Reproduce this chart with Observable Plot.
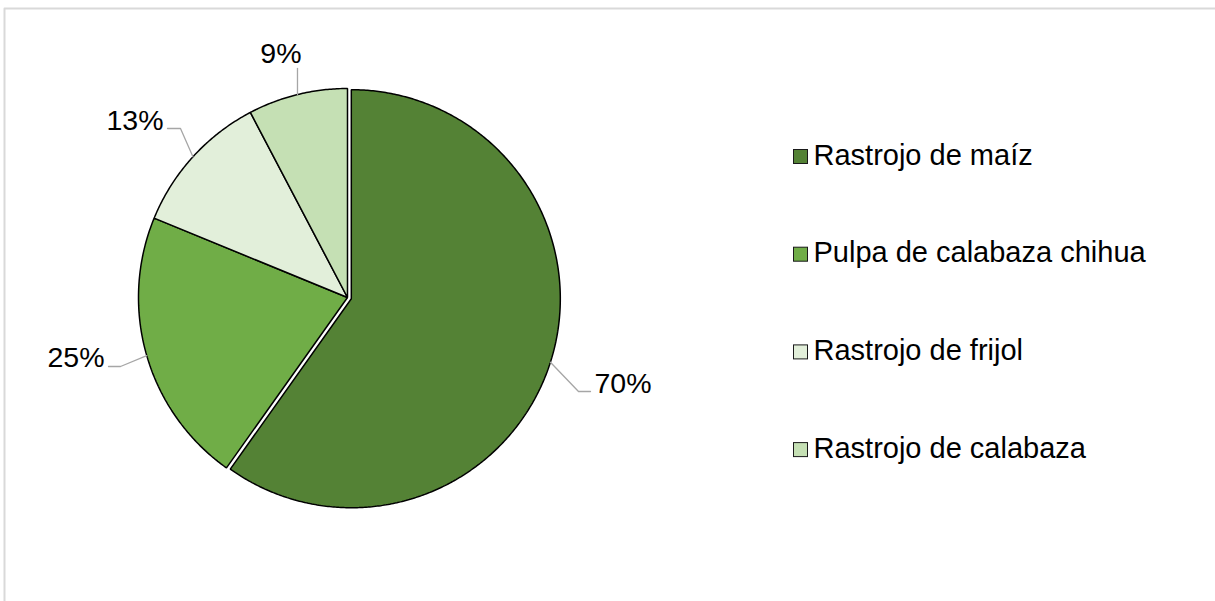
<!DOCTYPE html>
<html>
<head>
<meta charset="utf-8">
<script src="https://cdn.jsdelivr.net/npm/d3@7"></script>
<script src="https://cdn.jsdelivr.net/npm/@observablehq/plot@0.6"></script>
<style>
  html, body { margin: 0; padding: 0; background: #fff; }
  svg { display: block; }
</style>
</head>
<body>
<div id="chart"></div>
<script>
// ---- data ----
const categories = ["Rastrojo de maíz", "Pulpa de calabaza chihua", "Rastrojo de frijol", "Rastrojo de calabaza"];
const values = [70, 25, 13, 9];
const labels = ["70%", "25%", "13%", "9%"];
const colors = ["#548235", "#70AD47", "#E2EFDA", "#C5E0B4"];

// ---- layout (pixels) ----
const W = 1215, H = 601;
const cx = 347, cy = 297, R = 209;
const explode = [4, 0, 0, 0];
const labelLayout = [
  {elbow: [578, 391], end: [590, 391], tx: 594, ty: 392, anchor: "start"},
  {elbow: [120, 366], end: [108, 366], tx: 104, ty: 366, anchor: "end"},
  {elbow: [180, 128], end: [167, 128], tx: 163, ty: 129, anchor: "end"},
  {elbow: null, end: [null, 68], tx: 301, ty: 62, anchor: "end"}
];
const legendX = 793, legendY0 = 164, legendStep = 97.7, legendBox = 14;
const font = "'Liberation Sans', Arial, sans-serif";

// ---- pie geometry from data ----
const arcs = d3.pie().sort(null).value(d => d)(values);
const slicePts = [];
const edgePts = [];
arcs.forEach((a, i) => {
  const mid = (a.startAngle + a.endAngle) / 2;
  const ox = cx + explode[i] * Math.sin(mid);
  const oy = cy - explode[i] * Math.cos(mid);
  slicePts.push({k: categories[i], x: ox, y: oy});
  const n = Math.max(8, Math.ceil((a.endAngle - a.startAngle) / (Math.PI / 360)));
  for (let s = 0; s <= n; s++) {
    const t = a.startAngle + (a.endAngle - a.startAngle) * s / n;
    slicePts.push({k: categories[i], x: ox + R * Math.sin(t), y: oy - R * Math.cos(t)});
  }
  edgePts.push([ox + R * Math.sin(mid), oy - R * Math.cos(mid)]);
});

// leader lines
const leaderPts = [];
labelLayout.forEach((L, i) => {
  const e = edgePts[i];
  const end = [L.end[0] == null ? e[0] : L.end[0], L.end[1]];
  const elbow = L.elbow || end;
  leaderPts.push({k: i, x: e[0], y: e[1]});
  leaderPts.push({k: i, x: elbow[0], y: elbow[1]});
  leaderPts.push({k: i, x: end[0], y: end[1]});
});

const labelData = labels.map((t, i) => ({t, x: labelLayout[i].tx, y: labelLayout[i].ty, a: labelLayout[i].anchor}));
const legendData = categories.map((c, i) => ({c, i, y: legendY0 + i * legendStep}));
const borderPts = [{x: 4, y: H + 5}, {x: 4, y: 8}, {x: W + 5, y: 8}];

const plot = Plot.plot({
  width: W, height: H,
  margin: 0,
  x: {type: "identity", axis: null},
  y: {type: "identity", axis: null},
  color: {domain: categories, range: colors},
  style: {fontFamily: font, background: "#fff"},
  marks: [
    Plot.line(borderPts, {x: "x", y: "y", stroke: "#D9D9D9", strokeWidth: 2}),
    Plot.line(slicePts, {x: "x", y: "y", z: "k", fill: "k", stroke: "#000", strokeWidth: 1.5, curve: "linear-closed", strokeLinejoin: "miter"}),
    Plot.line(leaderPts, {x: "x", y: "y", z: "k", stroke: "#A6A6A6", strokeWidth: 1.3}),
    Plot.text(labelData.filter(d => d.a === "start"), {x: "x", y: "y", text: "t", textAnchor: "start", lineAnchor: "bottom", fontSize: 28.5, fill: "#000"}),
    Plot.text(labelData.filter(d => d.a === "end"), {x: "x", y: "y", text: "t", textAnchor: "end", lineAnchor: "bottom", fontSize: 28.5, fill: "#000"}),
    Plot.rect(legendData, {x1: () => legendX + 0.5, x2: () => legendX + 0.5 + legendBox, y1: d => d.y - legendBox - 0.5, y2: d => d.y - 0.5, fill: "c", stroke: "#1a1a1a", strokeWidth: 1}),
    Plot.text(legendData, {x: () => legendX + 20, y: "y", text: "c", textAnchor: "start", lineAnchor: "bottom", fontSize: 29, fill: "#000"})
  ]
});
document.getElementById("chart").appendChild(plot);
</script>
</body>
</html>
